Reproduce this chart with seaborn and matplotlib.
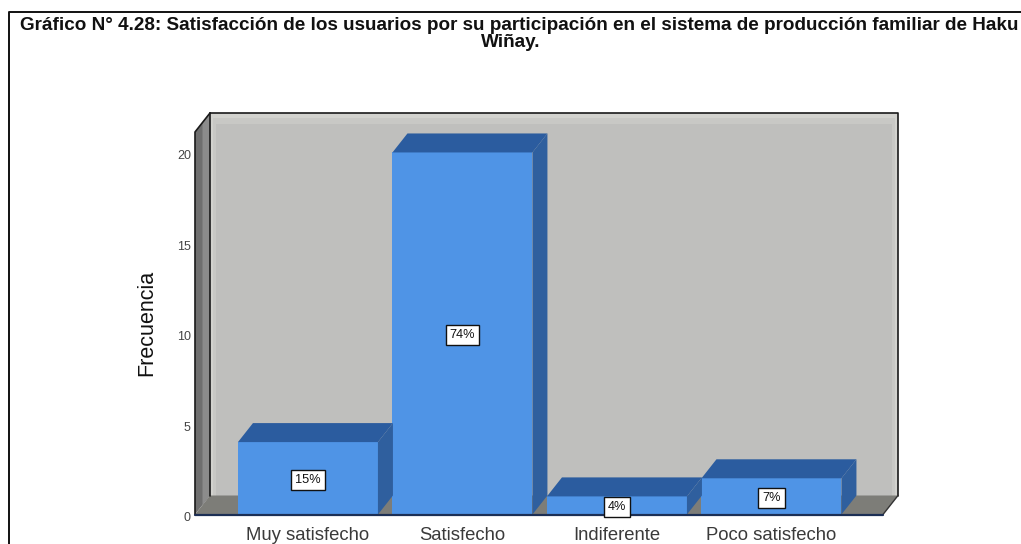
import matplotlib
matplotlib.use('Agg')
import pandas as pd
import seaborn as sns
from matplotlib import pyplot as plt
from matplotlib.lines import Line2D
from matplotlib.patches import Polygon, Rectangle
from matplotlib.transforms import ScaledTranslation

categories = ['Muy satisfecho', 'Satisfecho', 'Indiferente', 'Poco satisfecho']
frecuencia = [4, 20, 1, 2]
porcentajes = ['15%', '74%', '4%', '7%']
y_ticks = [0, 5, 10, 15, 20]

W, H = 1021, 544
sns.set_theme(style='white')
plt.rcParams['font.family'] = ['Liberation Sans', 'DejaVu Sans']

fig = plt.figure(figsize=(W / 100, H / 100), dpi=100, facecolor='white')
# caja del eje en pixeles: x 195-883, y 132-514.5
ax = fig.add_axes([195 / W, 1 - 514.5 / H, 688 / W, 382.5 / H])
ax.patch.set_visible(False)

df = pd.DataFrame({'categoria': categories, 'frecuencia': frecuencia})
sns.barplot(data=df, x='categoria', y='frecuencia', color='#4f94e6', saturation=1,
            width=0.906, ax=ax, zorder=3, linewidth=0, edgecolor='none')

x0, x1 = -0.731, 3.722
y1 = 21.13
ax.set_xlim(x0, x1)
ax.set_ylim(0, y1)
sns.despine(ax=ax, left=True, bottom=True)

# profundidad del efecto 3D, 15 px y 19 px pasados a datos
px_x = (x1 - x0) / 688
px_y = y1 / 382.5
dx = 15 * px_x
dy = 19 * px_y

# pared del fondo, con el borde mas claro en capas
wall = [('#d2d2ce', 0, 0), ('#c8c8c5', 3, 5), ('#bfbfbd', 6, 11)]
for i, (col, side, top) in enumerate(wall):
    ax.add_patch(Rectangle((x0 + dx + side * px_x, dy), x1 - x0 - 2 * side * px_x, y1 - top * px_y,
                           fc=col, ec='none', zorder=0.1 * i, clip_on=False))

# pared izquierda y piso
ax.add_patch(Polygon([(x0, 0), (x0 + dx, dy), (x0 + dx, y1 + dy), (x0, y1)], fc='#6f6f6f',
                     ec='none', zorder=1, clip_on=False))
ax.add_patch(Polygon([(x0 + dx * 0.5, dy * 0.5), (x0 + dx, dy), (x0 + dx, y1 + dy),
                      (x0 + dx * 0.5, y1 + dy * 0.5)],
                     fc='#8c8c8c', ec='none', zorder=1.1, clip_on=False))
ax.add_patch(Polygon([(x0, 0), (x1, 0), (x1 + dx, dy), (x0 + dx, dy)], fc='#7d7d78', ec='none',
                     zorder=1, clip_on=False))

# lineas del marco
frame = dict(color='#1a1a1a', lw=1.2, zorder=2, clip_on=False)
ax.plot([x0 + dx, x1 + dx, x1 + dx], [y1 + dy, y1 + dy, dy], **frame)
ax.plot([x0 + dx, x0 + dx], [dy, y1 + dy], **frame)
ax.plot([x0, x0, x0 + dx], [0, y1, y1 + dy], **frame)
ax.plot([x1, x1 + dx], [0, dy], color='#333333', lw=1, zorder=2, clip_on=False)

# caras laterales y superiores de cada barra
for bar, pct in zip(ax.patches[:len(categories)], porcentajes):
    b0 = bar.get_x()
    b1 = b0 + bar.get_width()
    h = bar.get_height()
    ax.add_patch(Polygon([(b0, h), (b1, h), (b1 + dx, h + dy), (b0 + dx, h + dy)], fc='#2b5c9f',
                         ec='none', zorder=3, clip_on=False))
    ax.add_patch(Polygon([(b1, 0), (b1 + dx, dy), (b1 + dx, h + dy), (b1, h)], fc='#2f5f9e',
                         ec='none', zorder=3, clip_on=False))
    ax.text(b0 + bar.get_width() / 2, h / 2, pct, ha='center', va='center_baseline', fontsize=9.2,
            color='#111111', zorder=6, clip_on=False,
            bbox=dict(boxstyle='square,pad=0.3', fc='white', ec='#111111', lw=1))

ax.plot([x0, x1], [0, 0], color='#1c2f55', lw=1.6, zorder=5, clip_on=False)

ax.set_yticks(y_ticks)
ax.tick_params(axis='both', length=0)
ax.tick_params(axis='y', labelsize=9, labelcolor='#444444', pad=3)
ax.tick_params(axis='x', labelsize=13.3, labelcolor='#3a3a3a', pad=9)
shift = ScaledTranslation(0, -1.5 / 72, fig.dpi_scale_trans)
for lab in ax.get_yticklabels():
    lab.set_transform(lab.get_transform() + shift)
ax.set_xlabel('')
ax.set_ylabel('')

fig.text(147 / W, 1 - 323 / H, 'Frecuencia', rotation=90, ha='center', va='center', fontsize=15.5,
         color='#111111')

fig.text(19.5 / W, 1 - 25 / H, 'Gráfico N° 4.28: Satisfacción de los usuarios por su participación '
         'en el sistema de producción familiar de Haku', ha='left', va='center', fontsize=13.64,
         fontweight='bold', color='#111111')
fig.text(511 / W, 1 - 42.5 / H, 'Wiñay.', ha='center', va='center', fontsize=13.64,
         fontweight='bold', color='#111111')

# borde exterior de la imagen (sin lado derecho ni inferior)
fig.add_artist(Line2D([8.5 / W, 8.5 / W, 1], [0, 1 - 12 / H, 1 - 12 / H], color='#111111', lw=1.4))

fig.savefig('out.png', dpi=100, facecolor='white')
